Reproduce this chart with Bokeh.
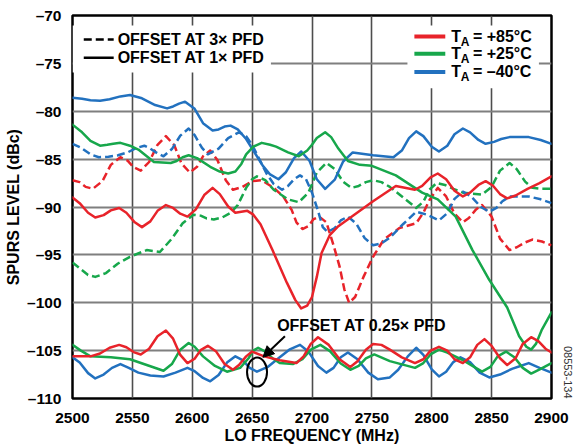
from bokeh.plotting import figure
from bokeh.models import FixedTicker, Arrow, NormalHead, Title
from bokeh.core.properties import value
from bokeh.embed import file_html
from bokeh.resources import INLINE

FONT = "Liberation Sans"
RED = "#e8232a"
GREEN = "#17a74b"
BLUE = "#2271bf"

# ---------------- axes ----------------
x_ticks = [2500, 2550, 2600, 2650, 2700, 2750, 2800, 2850, 2900]
x_tick_labels = ["2500", "2550", "2600", "2650", "2700", "2750", "2800", "2850", "2900"]
y_ticks = [-110, -105, -100, -95, -90, -85, -80, -75, -70]
y_tick_labels = ["–110", "–105", "–100", "–95", "–90", "–85", "–80", "–75", "–70"]

# ---------------- data (LO frequency MHz, spur level dBc) ----------------
# offset at 1x PFD (solid)
red_1x = [(2500, -89.0), (2506, -89.6), (2513, -90.6), (2519, -91.1), (2526, -90.85), (2532, -90.35), (2539, -90.1),
          (2545, -90.6), (2552, -91.6), (2558, -92.1), (2565, -91.5), (2571, -90.4), (2578, -89.8), (2584, -90.1),
          (2590, -90.7), (2596, -91.0), (2603, -90.25), (2610, -88.75), (2617, -88.0), (2623, -88.65), (2630, -89.95),
          (2636, -90.6), (2646, -90.4), (2651, -90.8), (2657, -91.8), (2667, -94.5), (2679, -97.9), (2686, -99.7),
          (2691, -100.6), (2696, -100.3), (2700, -99.4), (2704, -97.3), (2708, -94.8), (2715, -92.9), (2722, -92.0),
          (2731, -91.2), (2751, -89.4), (2770, -87.8), (2786, -88.2), (2792, -87.8), (2799, -86.9), (2805, -86.5),
          (2812, -87.1), (2819, -88.3), (2826, -88.9), (2832, -88.5), (2839, -87.7), (2845, -87.3), (2851, -87.75),
          (2857, -88.65), (2863, -89.1), (2870, -88.8), (2880, -88.1), (2890, -87.5), (2900, -86.8)]

green_1x = [(2500, -81.4), (2508, -82.2), (2515, -83.1), (2523, -83.6), (2529, -83.5), (2534, -83.4), (2540, -83.3),
            (2548, -83.6), (2555, -84.0), (2568, -85.3), (2582, -85.4), (2587, -85.2), (2592, -84.8), (2597, -84.6),
            (2604, -84.9), (2615, -85.8), (2623, -86.3), (2630, -86.5), (2636, -86.3), (2641, -85.5), (2645, -84.5),
            (2651, -83.7), (2658, -83.3), (2665, -83.5), (2670, -83.7), (2680, -84.3), (2689, -84.7), (2696, -84.1),
            (2700, -83.5), (2704, -82.8), (2711, -82.2), (2716, -82.7), (2722, -83.9), (2730, -85.2), (2740, -85.6),
            (2750, -85.7), (2770, -86.7), (2792, -88.5), (2805, -89.2), (2820, -91.0), (2834, -94.5), (2848, -97.6),
            (2863, -100.5), (2873, -103.5), (2879, -104.6), (2883, -104.9), (2887, -104.3), (2892, -102.8), (2900, -101.0)]

blue_1x = [(2500, -78.6), (2508, -78.7), (2515, -78.85), (2523, -78.9), (2531, -78.75), (2540, -78.45), (2548, -78.3),
           (2558, -78.65), (2569, -79.35), (2579, -79.7), (2584, -79.5), (2589, -79.2), (2594, -79.0), (2602, -79.75),
           (2609, -81.25), (2617, -82.0), (2622, -81.9), (2627, -81.6), (2632, -81.5), (2638, -81.9), (2645, -82.9),
           (2651, -84.1), (2659, -85.7), (2665, -86.6), (2672, -87.1), (2678, -86.4), (2685, -84.9), (2691, -84.2),
           (2698, -85.2), (2704, -87.1), (2711, -88.1), (2719, -87.15), (2726, -85.25), (2734, -84.3), (2751, -84.6),
           (2768, -84.8), (2775, -84.1), (2781, -82.8), (2787, -82.1), (2793, -82.6), (2800, -83.7), (2806, -84.2),
           (2813, -83.6), (2819, -82.4), (2826, -81.8), (2832, -82.2), (2839, -83.0), (2845, -83.4), (2852, -83.2),
           (2858, -82.9), (2865, -82.7), (2881, -82.7), (2891, -83.0), (2900, -83.4)]

# offset at 3x PFD (dashed)
red_3x = [(2500, -87.2), (2506, -87.4), (2511, -87.9), (2517, -88.1), (2525, -87.3), (2532, -85.6), (2540, -84.8),
          (2546, -85.15), (2551, -85.85), (2557, -86.2), (2564, -85.3), (2571, -83.5), (2578, -82.6), (2585, -83.55),
          (2591, -85.45), (2598, -86.4), (2604, -85.8), (2609, -84.7), (2615, -84.1), (2621, -85.1), (2628, -87.2),
          (2634, -88.2), (2642, -87.9), (2650, -87.3), (2658, -87.2), (2668, -88.0), (2676, -88.9), (2683, -90.3),
          (2687, -91.6), (2692, -92.3), (2697, -92.0), (2701, -91.3), (2706, -91.0), (2712, -91.6), (2718, -94.0),
          (2723, -96.2), (2727, -98.6), (2731, -100.0), (2736, -99.4), (2743, -97.3), (2751, -95.2), (2760, -93.4),
          (2773, -92.2), (2787, -91.7), (2793, -90.6), (2798, -89.3), (2805, -88.0), (2812, -88.9), (2819, -90.7),
          (2826, -91.6), (2831, -91.15), (2837, -90.25), (2842, -89.8), (2850, -91.0), (2857, -93.3), (2865, -94.5),
          (2871, -94.2), (2878, -93.7), (2884, -93.4), (2892, -93.6), (2900, -94.0)]

green_3x = [(2500, -95.8), (2507, -96.5), (2513, -97.1), (2519, -97.3), (2528, -96.9), (2538, -95.9), (2548, -95.2),
            (2562, -94.5), (2573, -94.7), (2583, -93.3), (2592, -91.7), (2601, -90.8), (2607, -90.9), (2612, -91.2),
            (2618, -91.3), (2625, -91.1), (2632, -90.6), (2638, -89.8), (2645, -88.0), (2650, -87.1), (2654, -86.8),
            (2661, -87.2), (2668, -88.2), (2680, -89.2), (2689, -89.5), (2697, -88.5), (2704, -86.4), (2712, -85.4),
            (2719, -86.05), (2726, -87.35), (2733, -88.0), (2739, -87.8), (2745, -87.4), (2751, -87.2), (2758, -87.4),
            (2765, -87.9), (2772, -88.6), (2779, -89.3), (2787, -90.1), (2793, -89.45), (2798, -88.2), (2804, -87.5),
            (2811, -87.7), (2818, -88.1), (2826, -88.5), (2842, -88.7), (2850, -87.9), (2857, -86.2), (2865, -85.4),
            (2871, -86.05), (2878, -87.35), (2884, -88.0), (2892, -88.1), (2900, -88.1)]

blue_3x = [(2500, -83.4), (2507, -83.8), (2515, -84.5), (2522, -84.8), (2530, -84.75), (2538, -84.6), (2546, -84.3),
           (2553, -83.85), (2560, -83.6), (2565, -83.9), (2571, -84.4), (2576, -84.7), (2583, -83.95), (2590, -82.55),
           (2597, -81.8), (2602, -82.5), (2608, -83.8), (2613, -84.5), (2622, -83.9), (2630, -82.8), (2639, -82.2),
           (2645, -82.6), (2650, -83.5), (2656, -85.0), (2662, -86.5), (2668, -87.6), (2675, -88.2), (2680, -87.8),
           (2685, -87.1), (2690, -86.7), (2695, -87.1), (2700, -88.5), (2705, -90.4), (2709, -92.1), (2713, -92.6),
           (2719, -92.2), (2724, -91.4), (2730, -91.0), (2737, -91.75), (2744, -93.25), (2751, -94.0), (2758, -93.8),
           (2765, -93.2), (2776, -91.8), (2787, -90.5), (2796, -90.8), (2806, -91.4), (2813, -90.65), (2819, -89.15),
           (2826, -88.4), (2833, -88.9), (2841, -90.0), (2848, -90.5), (2854, -90.1), (2859, -89.4), (2865, -88.9),
           (2881, -88.9), (2891, -89.2), (2900, -89.6)]

# offset at 0.25x PFD (solid, bottom group)
red_q = [(2500, -105.6), (2515, -105.6), (2523, -105.3), (2531, -104.7), (2539, -104.4), (2545, -104.65), (2551, -105.15),
         (2557, -105.4), (2564, -104.8), (2571, -103.5), (2578, -102.9), (2584, -103.75), (2590, -105.45), (2596, -106.3),
         (2602, -105.85), (2607, -104.95), (2613, -104.5), (2620, -105.1), (2627, -106.4), (2634, -107.0), (2639, -106.5),
         (2645, -105.6), (2650, -105.1), (2660, -105.6), (2673, -106.0), (2687, -106.3), (2693, -105.6), (2699, -104.3),
         (2705, -103.6), (2714, -104.4), (2723, -105.9), (2732, -106.7), (2738, -106.1), (2745, -104.9), (2751, -104.3),
         (2758, -104.4), (2765, -104.9), (2775, -105.7), (2786, -106.3), (2793, -105.9), (2799, -105.0), (2806, -104.6),
         (2813, -105.0), (2819, -105.9), (2826, -106.3), (2832, -105.7), (2838, -104.4), (2844, -103.8), (2850, -104.5),
         (2857, -105.8), (2863, -106.5), (2870, -105.8), (2876, -104.3), (2883, -103.6), (2889, -104.0), (2895, -104.8),
         (2900, -105.2)]

green_q = [(2500, -104.4), (2507, -105.0), (2515, -105.6), (2532, -105.7), (2548, -105.9), (2562, -106.5), (2576, -107.1),
           (2583, -106.4), (2590, -104.9), (2597, -104.2), (2602, -104.6), (2609, -105.6), (2619, -106.6), (2629, -107.2),
           (2640, -106.8), (2647, -105.8), (2651, -105.0), (2655, -104.7), (2661, -105.1), (2667, -105.8), (2673, -106.3),
           (2684, -106.4), (2692, -105.9), (2699, -104.9), (2707, -104.4), (2715, -105.05), (2724, -106.35), (2732, -107.0),
           (2739, -106.6), (2745, -105.8), (2752, -105.4), (2765, -106.1), (2786, -106.8), (2793, -106.3), (2799, -105.4),
           (2806, -104.9), (2813, -105.2), (2826, -106.0), (2834, -106.6), (2842, -107.2), (2849, -106.7), (2855, -105.6),
           (2862, -105.1), (2869, -105.7), (2876, -106.8), (2883, -107.4), (2891, -106.9), (2900, -106.3)]

blue_q = [(2500, -105.7), (2506, -106.25), (2513, -107.35), (2519, -107.9), (2526, -107.5), (2533, -106.8), (2540, -106.4),
          (2547, -106.8), (2555, -107.3), (2565, -107.6), (2576, -107.7), (2586, -107.3), (2596, -106.8), (2602, -107.15),
          (2609, -107.85), (2615, -108.2), (2622, -107.55), (2629, -106.25), (2636, -105.6), (2642, -106.0), (2648, -106.8),
          (2654, -107.2), (2663, -106.7), (2672, -105.8), (2681, -104.9), (2690, -104.4), (2697, -105.1), (2705, -106.6),
          (2712, -107.3), (2718, -106.8), (2724, -105.7), (2730, -105.2), (2738, -105.9), (2747, -107.3), (2755, -108.0),
          (2765, -107.8), (2772, -107.0), (2780, -105.6), (2787, -104.7), (2793, -105.45), (2800, -106.95), (2806, -107.7),
          (2812, -107.2), (2818, -106.2), (2824, -105.7), (2832, -106.2), (2840, -107.3), (2848, -107.8), (2857, -107.5),
          (2867, -106.9), (2874, -106.6), (2881, -106.3), (2890, -106.8), (2900, -107.3)]

# ---------------- figure ----------------
p = figure(width=585, height=447, x_range=(2500, 2900), y_range=(-110, -70),
           output_backend="svg", toolbar_location=None,
           min_border_left=72, min_border_right=33, min_border_top=15, min_border_bottom=49)
p.background_fill_color = "white"
p.border_fill_color = "white"
p.outline_line_color = "black"
p.outline_line_width = 2.5

p.xaxis.ticker = FixedTicker(ticks=x_ticks)
p.yaxis.ticker = FixedTicker(ticks=y_ticks)
p.xgrid.ticker = FixedTicker(ticks=x_ticks)
p.ygrid.ticker = FixedTicker(ticks=y_ticks)
p.xaxis.major_label_overrides = dict(zip(x_ticks, x_tick_labels))
p.yaxis.major_label_overrides = dict(zip(y_ticks, y_tick_labels))
for ax in (p.xaxis[0], p.yaxis[0]):
    ax.axis_line_color = None
    ax.major_tick_line_color = None
    ax.minor_tick_line_color = None
    ax.major_label_text_font = FONT
    ax.major_label_text_font_size = "15.5px"
    ax.major_label_text_font_style = "bold"
    ax.major_label_text_color = "black"
    ax.axis_label_text_font = FONT
    ax.axis_label_text_font_size = "16px"
    ax.axis_label_text_font_style = "bold"
    ax.axis_label_text_color = "black"
p.xaxis.major_label_standoff = 8
p.yaxis.major_label_standoff = 5
p.yaxis.axis_label = "SPURS LEVEL (dBc)"
p.yaxis.axis_label_standoff = 2
p.xaxis.axis_label = "LO FREQUENCY (MHz)"
p.xaxis.axis_label_standoff = 1

p.xgrid.grid_line_color = "#4d4d4d"
p.xgrid.grid_line_width = 1.6
p.ygrid.grid_line_color = "#7f7f7f"
p.ygrid.grid_line_width = 2

# figure id on the right edge, near the bottom
p.add_layout(Title(text="08553-134", align="right", text_font=FONT, text_font_size="11px",
                   text_font_style="normal", text_color="#333333", standoff=24), "right")

# legend backgrounds (white boxes hiding the grid)
p.quad(left=[2500, 2779.7], right=[2665.7, 2889.5], top=[-71.04, -71.04], bottom=[-75.94, -77.6],
       fill_color="white", line_color=None)

# curves
LW = 2.5
def curve(pairs, color, dash="solid"):
    f = [a for a, _ in pairs]
    v = [b for _, b in pairs]
    p.line(f, v, line_color=color, line_width=LW, line_dash=dash, line_join="round",
           line_cap="round" if dash == "solid" else "butt")

curve(red_3x, RED, "8 4")
curve(green_3x, GREEN, "8 4")
curve(blue_3x, BLUE, "8 4")
curve(blue_1x, BLUE)
curve(green_1x, GREEN)
curve(red_1x, RED)
curve(blue_q, BLUE)
curve(green_q, GREEN)
curve(red_q, RED)

# legend 1: line style
p.segment(x0=[2509.4], y0=[-72.5], x1=[2534.4], y1=[-72.5], line_color="black", line_width=2.5, line_dash="8 4")
p.segment(x0=[2509.4], y0=[-74.4], x1=[2534.4], y1=[-74.4], line_color="black", line_width=2.5)
p.text(x=[2537.7, 2537.7], y=[-72.5, -74.4], text=["OFFSET AT 3× PFD", "OFFSET AT 1× PFD"],
       text_font=value(FONT), text_font_style="bold", text_font_size="16px",
       text_baseline="middle", text_align="left", text_color="black")

# legend 2: temperature
leg_y = [-72.2, -74.0, -75.9]
p.segment(x0=[2785.5] * 3, y0=leg_y, x1=[2811.3] * 3, y1=leg_y,
          line_color=[RED, GREEN, BLUE], line_width=4)
p.text(x=[2816.3] * 3, y=leg_y, text=["T", "T", "T"],
       text_font=value(FONT), text_font_style="bold", text_font_size="16px",
       text_baseline="middle", text_align="left", text_color="black")
p.text(x=[2824.2] * 3, y=[v - 0.55 for v in leg_y], text=["A", "A", "A"],
       text_font=value(FONT), text_font_style="bold", text_font_size="12px",
       text_baseline="middle", text_align="left", text_color="black")
p.text(x=[2834.4] * 3, y=leg_y, text=["= +85°C", "= +25°C", "= –40°C"],
       text_font=value(FONT), text_font_style="bold", text_font_size="16px",
       text_baseline="middle", text_align="left", text_color="black")

# annotation: offset at 0.25x PFD
p.text(x=[2670.9], y=[-102.34], text=["OFFSET AT 0.25× PFD"],
       text_font=value(FONT), text_font_style="bold", text_font_size="16px",
       text_baseline="middle", text_align="left", text_color="black")
p.ellipse(x=[2654.1], y=[-107.24], width=[20], height=[29], width_units="screen", height_units="screen",
          fill_color=None, line_color="black", line_width=2)
p.add_layout(Arrow(end=NormalHead(size=11, fill_color="black", line_color="black"),
                   x_start=2677.4, y_start=-103.5, x_end=2659.0, y_end=-105.7,
                   line_color="black", line_width=2))

open("out.html", "w").write(file_html(p, INLINE))
